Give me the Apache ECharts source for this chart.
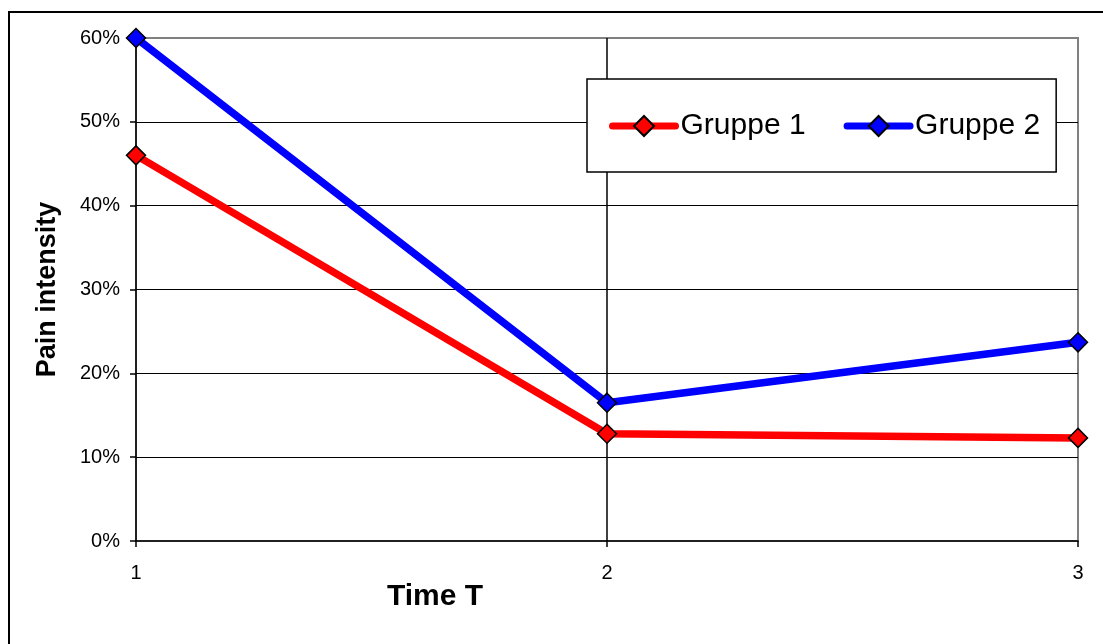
<!DOCTYPE html>
<html>
<head>
<meta charset="utf-8">
<script src="https://cdn.jsdelivr.net/npm/echarts@6/dist/echarts.min.js"></script>
<style>
  html, body { margin: 0; padding: 0; background: #fff; }
  #chart { width: 1103px; height: 644px; }
</style>
</head>
<body>
<div id="chart"></div>
<script>
// data
const timePoints = ['1', '2', '3']
const gruppe1 = [46, 12.8, 12.3]
const gruppe2 = [60, 16.5, 23.7]
const yTicks = { min: 0, max: 60, step: 10 }

const font = 'Arial, "Liberation Sans", sans-serif'

const chart = echarts.init(document.getElementById('chart'))

const seriesStyle = (name, data, color) => ({
  name: name,
  type: 'line',
  data: data,
  symbol: 'diamond',
  symbolSize: 19,
  showAllSymbol: true,
  lineStyle: { color: color, width: 7.5 },
  itemStyle: { color: color, borderColor: '#000', borderWidth: 1.5 },
  emphasis: { disabled: true },
  z: 5
})

const option = {
  animation: false,
  backgroundColor: '#fff',
  grid: {
    left: 136,
    right: 25,
    top: 38,
    bottom: 103,
    show: true,
    borderColor: '#808080',
    borderWidth: 2,
    backgroundColor: 'transparent'
  },
  legend: {
    left: 587,
    top: 79,
    orient: 'horizontal',
    padding: [32, 16, 31, 22],
    itemGap: 38,
    itemWidth: 63,
    itemHeight: 25,
    borderColor: '#000',
    borderWidth: 1.5,
    backgroundColor: '#fff',
    lineStyle: { width: 7, cap: 'round' },
    textStyle: { fontFamily: font, fontSize: 30, color: '#000' },
    data: ['Gruppe 1', 'Gruppe 2']
  },
  xAxis: {
    type: 'category',
    data: timePoints,
    boundaryGap: false,
    axisLine: { lineStyle: { color: '#000', width: 1.5 } },
    axisTick: { show: true, length: 6, lineStyle: { color: '#000', width: 1.5 } },
    axisLabel: { fontFamily: font, fontSize: 20, color: '#000', margin: 22 },
    splitLine: {
      show: true,
      showMinLine: false,
      showMaxLine: false,
      lineStyle: { color: '#000', width: 1.5 }
    }
  },
  yAxis: {
    type: 'value',
    min: yTicks.min,
    max: yTicks.max,
    interval: yTicks.step,
    name: 'Pain intensity',
    nameLocation: 'middle',
    nameRotate: 90,
    nameGap: 75,
    nameTextStyle: { fontFamily: font, fontSize: 27, fontWeight: 'bold', color: '#000' },
    axisLine: { show: true, lineStyle: { color: '#000', width: 1.5 } },
    axisTick: { show: true, length: 6, lineStyle: { color: '#000', width: 1.5 } },
    axisLabel: { fontFamily: font, fontSize: 20, color: '#000', margin: 16, formatter: '{value}%' },
    splitLine: {
      show: true,
      showMinLine: false,
      showMaxLine: false,
      lineStyle: { color: '#000', width: 1 }
    }
  },
  graphic: [
    {
      type: 'rect',
      shape: { x: 9, y: 12, width: 1200, height: 700 },
      style: { fill: 'none', stroke: '#000', lineWidth: 2 },
      silent: true
    },
    {
      type: 'text',
      x: 435,
      y: 597,
      style: {
        text: 'Time T',
        fontFamily: font,
        fontSize: 30,
        fontWeight: 'bold',
        fill: '#000',
        align: 'center',
        verticalAlign: 'middle'
      },
      silent: true
    }
  ],
  series: [
    seriesStyle('Gruppe 1', gruppe1, '#ff0000'),
    seriesStyle('Gruppe 2', gruppe2, '#0000ff')
  ]
}

chart.setOption(option)
</script>
</body>
</html>
